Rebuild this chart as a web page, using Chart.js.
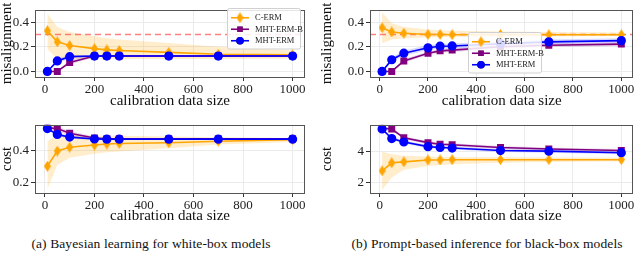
<!DOCTYPE html>
<html>
<head>
<meta charset="utf-8">
<script src="https://cdn.jsdelivr.net/npm/chart.js@4.4.1/dist/chart.umd.min.js"></script>
<style>
  body { margin: 0; background: #fff; }
  #wrap { position: relative; width: 640px; height: 254px; overflow: hidden; font-family: "Liberation Serif", serif; }
  canvas { position: absolute; }
  .cap { position: absolute; top: 236px; font-size: 13.5px; white-space: nowrap; transform: translateX(-50%); color: #111; letter-spacing: 0.1px; }
</style>
</head>
<body>
<div id="wrap">
  <canvas id="misA" width="320" height="112" style="left:0;top:0"></canvas>
  <canvas id="misB" width="320" height="112" style="left:320px;top:0"></canvas>
  <canvas id="costA" width="320" height="112" style="left:0;top:115px"></canvas>
  <canvas id="costB" width="320" height="112" style="left:320px;top:115px"></canvas>
  <div class="cap" style="left:151px">(a) Bayesian learning for white-box models</div>
  <div class="cap" style="left:487px">(b) Prompt-based inference for black-box models</div>
</div>
<script>
const sizes = [10, 50, 100, 200, 250, 300, 500, 700, 1000];
const xTicks = [0, 200, 400, 600, 800, 1000];
const labels = ['C-ERM', 'MHT-ERM-B', 'MHT-ERM'];
const threshold = 0.3;

// (a) misalignment
const cermMisA = [0.33, 0.24, 0.21, 0.185, 0.175, 0.17, 0.155, 0.14, 0.135];
const cermMisAHi = [0.47, 0.36, 0.32, 0.285, 0.27, 0.26, 0.23, 0.2, 0.17];
const cermMisALo = [0.18, 0.1, 0.1, 0.1, 0.1, 0.1, 0.1, 0.1, 0.105];
const mhtbMisA = [0, 0, 0.073, 0.125, 0.125, 0.125, 0.125, 0.125, 0.125];
const mhtbMisAHi = [0, 0.005, 0.095, 0.135, 0.13, 0.13, 0.13, 0.13, 0.13];
const mhtbMisALo = [0, 0, 0.055, 0.115, 0.12, 0.12, 0.12, 0.12, 0.12];
const mhtMisA = [0, 0.085, 0.12, 0.125, 0.125, 0.125, 0.125, 0.125, 0.125];
const mhtMisAHi = [0, 0.105, 0.135, 0.13, 0.13, 0.13, 0.13, 0.13, 0.13];
const mhtMisALo = [0, 0.065, 0.105, 0.12, 0.12, 0.12, 0.12, 0.12, 0.12];

// (b) misalignment
const cermMisB = [0.355, 0.32, 0.31, 0.3, 0.3, 0.298, 0.3, 0.298, 0.298];
const cermMisBHi = [0.48, 0.39, 0.36, 0.34, 0.335, 0.33, 0.325, 0.32, 0.315];
const cermMisBLo = [0.23, 0.26, 0.27, 0.275, 0.278, 0.28, 0.283, 0.285, 0.285];
const mhtbMisB = [0, 0, 0.085, 0.147, 0.167, 0.173, 0.2, 0.213, 0.222];
const mhtbMisBHi = [0, 0.01, 0.1, 0.162, 0.182, 0.188, 0.215, 0.228, 0.237];
const mhtbMisBLo = [0, 0, 0.07, 0.132, 0.152, 0.158, 0.185, 0.198, 0.207];
const mhtMisB = [0, 0.095, 0.148, 0.192, 0.205, 0.207, 0.225, 0.24, 0.25];
const mhtMisBHi = [0, 0.115, 0.17, 0.212, 0.225, 0.227, 0.245, 0.26, 0.27];
const mhtMisBLo = [0, 0.075, 0.128, 0.172, 0.185, 0.187, 0.205, 0.22, 0.23];

// (a) cost
const cermCostA = [0.302, 0.398, 0.422, 0.436, 0.442, 0.446, 0.45, 0.46, 0.47];
const cermCostAHi = [0.46, 0.5, 0.5, 0.495, 0.495, 0.495, 0.49, 0.485, 0.48];
const cermCostALo = [0.155, 0.31, 0.355, 0.38, 0.39, 0.395, 0.415, 0.44, 0.455];
const mhtbCostA = [0.545, 0.54, 0.51, 0.48, 0.475, 0.475, 0.475, 0.475, 0.475];
const mhtbCostAHi = [0.555, 0.555, 0.525, 0.49, 0.48, 0.48, 0.48, 0.48, 0.48];
const mhtbCostALo = [0.535, 0.525, 0.495, 0.47, 0.47, 0.47, 0.47, 0.47, 0.47];
const mhtCostA = [0.54, 0.503, 0.486, 0.474, 0.473, 0.473, 0.473, 0.473, 0.473];
const mhtCostAHi = [0.55, 0.515, 0.496, 0.48, 0.478, 0.478, 0.478, 0.478, 0.478];
const mhtCostALo = [0.53, 0.491, 0.476, 0.468, 0.468, 0.468, 0.468, 0.468, 0.468];

// (b) cost
const cermCostB = [2.73, 3.25, 3.31, 3.43, 3.43, 3.45, 3.45, 3.45, 3.45];
const cermCostBHi = [3.96, 3.8, 3.7, 3.65, 3.63, 3.62, 3.6, 3.59, 3.58];
const cermCostBLo = [1.5, 2.3, 2.8, 3.05, 3.1, 3.15, 3.25, 3.3, 3.35];
const mhtbCostB = [5.48, 5.43, 4.86, 4.55, 4.45, 4.41, 4.24, 4.14, 4.04];
const mhtbCostBHi = [5.58, 5.53, 4.96, 4.65, 4.55, 4.51, 4.34, 4.24, 4.14];
const mhtbCostBLo = [5.38, 5.33, 4.76, 4.45, 4.35, 4.31, 4.14, 4.04, 3.94];
const mhtCostB = [5.43, 4.81, 4.59, 4.29, 4.24, 4.2, 4.04, 4.0, 3.9];
const mhtCostBHi = [5.53, 4.91, 4.69, 4.39, 4.34, 4.3, 4.14, 4.1, 4.0];
const mhtCostBLo = [5.33, 4.71, 4.49, 4.19, 4.14, 4.1, 3.94, 3.9, 3.8];

const ORANGE = '#ffa500';
const PURPLE = '#800080';
const BLUE = '#0000ff';
const SERIF = '"Liberation Serif", "Times New Roman", serif';

function thinDiamond(color, w, h) {
  const c = document.createElement('canvas');
  c.width = w;
  c.height = h;
  const g = c.getContext('2d');
  g.fillStyle = color;
  g.beginPath();
  g.moveTo(w / 2, 0);
  g.lineTo(w, h / 2);
  g.lineTo(w / 2, h);
  g.lineTo(0, h / 2);
  g.closePath();
  g.fill();
  return c;
}

const diamond = thinDiamond(ORANGE, 7, 11);

function pts(values) {
  return sizes.map((x, i) => ({ x, y: values[i] }));
}

function lineSet(label, values, color, style, radius) {
  return {
    label,
    data: pts(values),
    borderColor: color,
    backgroundColor: color,
    pointStyle: style,
    pointRadius: radius,
    borderWidth: 1.6,
    fill: false
  };
}

function bandSets(hi, lo, fillColor) {
  return [
    { data: pts(hi), band: true, pointRadius: 0, borderWidth: 0, borderColor: 'rgba(0,0,0,0)', fill: false },
    { data: pts(lo), band: true, pointRadius: 0, borderWidth: 0, borderColor: 'rgba(0,0,0,0)', fill: '-1', backgroundColor: fillColor }
  ];
}

const framePlugin = {
  id: 'frame',
  afterDatasetsDraw(chart) {
    const { ctx, chartArea: a } = chart;
    ctx.save();
    ctx.strokeStyle = '#555';
    ctx.lineWidth = 1;
    ctx.strokeRect(Math.round(a.left) + 0.5, Math.round(a.top) + 0.5, Math.round(a.width) - 1, Math.round(a.height));
    ctx.restore();
  }
};

// legend box drawn inside the plot, in the order C-ERM, MHT-ERM-B, MHT-ERM
const boxLegend = {
  id: 'boxLegend',
  afterDraw(chart, args, opts) {
    if (!opts || !opts.show) return;
    const ctx = chart.ctx;
    const items = chart.data.datasets.filter((d) => d.label && !d.band && !d.ref).reverse();
    const rowH = 11.5;
    const w = opts.width;
    const h = items.length * rowH + 6;
    ctx.save();
    ctx.fillStyle = 'rgba(255,255,255,0.85)';
    ctx.strokeStyle = '#d0d0d0';
    ctx.lineWidth = 1;
    ctx.beginPath();
    ctx.roundRect(opts.left + 0.5, opts.top + 0.5, w, h, 2);
    ctx.fill();
    ctx.stroke();
    ctx.font = '8.5px ' + SERIF;
    ctx.textBaseline = 'middle';
    items.forEach((d, i) => {
      const y = opts.top + 4 + rowH * i + rowH / 2;
      const x0 = opts.left + 4;
      ctx.strokeStyle = d.borderColor;
      ctx.lineWidth = 1.6;
      ctx.beginPath();
      ctx.moveTo(x0, y);
      ctx.lineTo(x0 + 18, y);
      ctx.stroke();
      if (d.pointStyle instanceof HTMLCanvasElement) {
        ctx.drawImage(d.pointStyle, x0 + 9 - d.pointStyle.width / 2, y - d.pointStyle.height / 2);
      } else {
        Chart.helpers.drawPoint(ctx, { pointStyle: d.pointStyle, radius: d.pointRadius, borderWidth: 0 }, x0 + 9, y);
        ctx.fillStyle = d.backgroundColor;
        ctx.fill();
      }
      ctx.fillStyle = '#222';
      ctx.fillText(d.label, x0 + 24, y + 0.5);
    });
    ctx.restore();
  }
};

function makePanel(id, p) {
  const datasets = [
    lineSet(labels[2], p.mht, BLUE, 'circle', 3.8),
    lineSet(labels[1], p.mhtb, PURPLE, 'rect', 3.8),
    lineSet(labels[0], p.cerm, ORANGE, diamond, 5)
  ];
  if (p.ref !== undefined) {
    datasets.push({
      ref: true,
      data: [{ x: -40, y: p.ref }, { x: 1050, y: p.ref }],
      borderColor: 'rgba(255,60,60,0.65)',
      borderWidth: 1.5,
      borderDash: [6, 4],
      pointRadius: 0,
      fill: false
    });
  }
  datasets.push(...bandSets(p.mhtHi, p.mhtLo, 'rgba(0,0,255,0.15)'));
  datasets.push(...bandSets(p.mhtbHi, p.mhtbLo, 'rgba(128,0,128,0.15)'));
  datasets.push(...bandSets(p.cermHi, p.cermLo, 'rgba(255,165,0,0.2)'));

  return new Chart(document.getElementById(id), {
    type: 'line',
    data: { datasets },
    plugins: [framePlugin, boxLegend],
    options: {
      responsive: false,
      animation: false,
      devicePixelRatio: 1,
      layout: { padding: p.pad },
      plugins: {
        legend: { display: false },
        tooltip: { enabled: false },
        boxLegend: p.legend || { show: false }
      },
      scales: {
        x: {
          type: 'linear',
          min: -40,
          max: 1050,
          afterBuildTicks: (s) => { s.ticks = xTicks.map((v) => ({ value: v })); },
          afterFit: (s) => { s.height = p.xHeight; },
          grid: { color: '#ebebeb', tickColor: '#333', tickLength: 4 },
          border: { display: false },
          ticks: { color: '#222', padding: 1, maxRotation: 0, font: { family: SERIF, size: 13 }, callback: (v) => String(v) },
          title: {
            display: true,
            text: 'calibration data size',
            color: '#111',
            padding: { top: 0, bottom: 3 },
            font: { family: SERIF, size: 15, lineHeight: 1 }
          }
        },
        y: {
          min: p.yMin,
          max: p.yMax,
          afterBuildTicks: (s) => { s.ticks = p.yTicks.map((v) => ({ value: v })); },
          afterFit: (s) => { s.width = p.yWidth; },
          grid: { color: '#ebebeb', tickColor: '#333', tickLength: 4 },
          border: { display: false },
          ticks: { color: '#222', padding: 2, font: { family: SERIF, size: 13 }, callback: p.yFmt },
          title: {
            display: true,
            text: p.yTitle,
            color: '#111',
            padding: { top: 0, bottom: 0 },
            font: { family: SERIF, size: 15, lineHeight: 1 }
          }
        }
      }
    }
  });
}

const oneDec = (v) => v.toFixed(1);
const plain = (v) => String(v);

makePanel('misA', {
  cerm: cermMisA, cermHi: cermMisAHi, cermLo: cermMisALo,
  mhtb: mhtbMisA, mhtbHi: mhtbMisAHi, mhtbLo: mhtbMisALo,
  mht: mhtMisA, mhtHi: mhtMisAHi, mhtLo: mhtMisALo,
  ref: threshold,
  yMin: -0.045, yMax: 0.5, yTicks: [0, 0.2, 0.4], yFmt: oneDec, yTitle: 'misalignment',
  yWidth: 35, xHeight: 35, pad: { top: 5, right: 15, left: 0, bottom: 0 },
  legend: { show: true, left: 227, top: 8, width: 73 }
});

makePanel('misB', {
  cerm: cermMisB, cermHi: cermMisBHi, cermLo: cermMisBLo,
  mhtb: mhtbMisB, mhtbHi: mhtbMisBHi, mhtbLo: mhtbMisBLo,
  mht: mhtMisB, mhtHi: mhtMisBHi, mhtLo: mhtMisBLo,
  ref: threshold,
  yMin: -0.045, yMax: 0.5, yTicks: [0, 0.2, 0.4], yFmt: oneDec, yTitle: 'misalignment',
  yWidth: 50, xHeight: 35, pad: { top: 5, right: 2, left: 0, bottom: 0 },
  legend: { show: true, left: 148, top: 32, width: 73 }
});

makePanel('costA', {
  cerm: cermCostA, cermHi: cermCostAHi, cermLo: cermCostALo,
  mhtb: mhtbCostA, mhtbHi: mhtbCostAHi, mhtbLo: mhtbCostALo,
  mht: mhtCostA, mhtHi: mhtCostAHi, mhtLo: mhtCostALo,
  yMin: 0.132, yMax: 0.564, yTicks: [0.2, 0.4], yFmt: oneDec, yTitle: 'cost',
  yWidth: 35, xHeight: 34, pad: { top: 6, right: 15, left: 0, bottom: 0 }
});

makePanel('costB', {
  cerm: cermCostB, cermHi: cermCostBHi, cermLo: cermCostBLo,
  mhtb: mhtbCostB, mhtbHi: mhtbCostBHi, mhtbLo: mhtbCostBLo,
  mht: mhtCostB, mhtHi: mhtCostBHi, mhtLo: mhtCostBLo,
  yMin: 1.3, yMax: 5.7, yTicks: [2, 4], yFmt: plain, yTitle: 'cost',
  yWidth: 50, xHeight: 34, pad: { top: 6, right: 5, left: 0, bottom: 0 }
});
</script>
</body>
</html>
